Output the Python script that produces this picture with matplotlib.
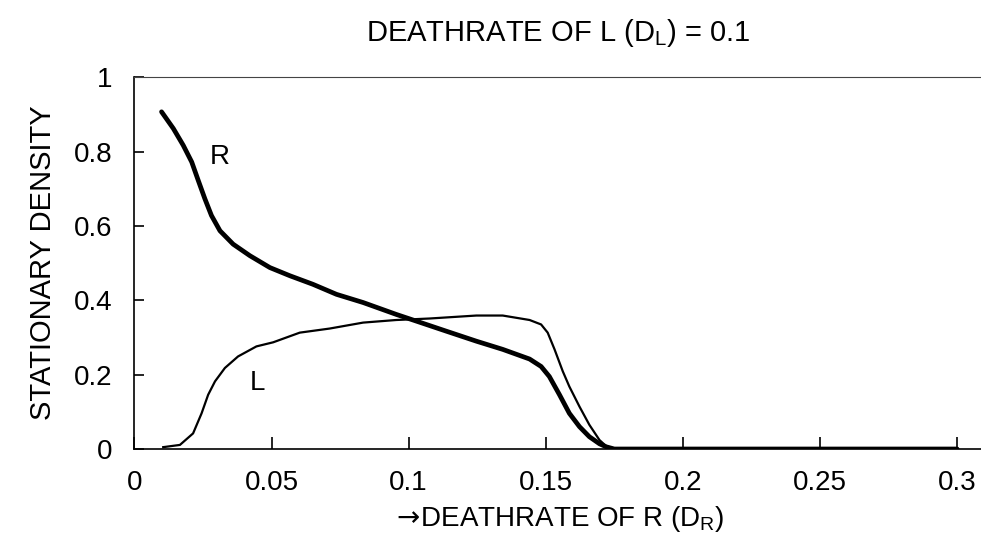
import matplotlib
matplotlib.use('Agg')
import matplotlib.pyplot as plt

plt.rcParams['font.family'] = ['Liberation Sans', 'DejaVu Sans']
plt.rcParams['mathtext.fontset'] = 'custom'
plt.rcParams['mathtext.rm'] = 'Liberation Sans'
plt.rcParams['mathtext.sf'] = 'DejaVu Sans'

# R density (thick curve)
r_x = [0.0099, 0.0142, 0.0178, 0.0209, 0.0233, 0.0257, 0.0281, 0.0312, 0.036,
       0.0421, 0.0494, 0.0567, 0.0651, 0.0737, 0.0834, 0.0955, 0.1028, 0.1137,
       0.1247, 0.1343, 0.1441, 0.1483, 0.1513, 0.155, 0.1586, 0.1623, 0.1659,
       0.1696, 0.172, 0.175, 0.3]
r_y = [0.907, 0.862, 0.817, 0.772, 0.722, 0.673, 0.628, 0.587, 0.551,
       0.520, 0.488, 0.466, 0.443, 0.416, 0.394, 0.362, 0.344, 0.317,
       0.290, 0.268, 0.242, 0.222, 0.195, 0.146, 0.096, 0.060, 0.033,
       0.014, 0.006, 0.0, 0.0]

# L density (thin curve)
l_x = [0.0105, 0.0166, 0.0214, 0.0245, 0.0269, 0.0294, 0.033, 0.0378, 0.0445,
       0.0506, 0.0603, 0.0712, 0.0834, 0.0955, 0.1076, 0.1247, 0.1343, 0.1441,
       0.1483, 0.1507, 0.1532, 0.1562, 0.1586, 0.1623, 0.1659, 0.1696, 0.172,
       0.175, 0.3]
l_y = [0.005, 0.011, 0.042, 0.096, 0.146, 0.182, 0.218, 0.249, 0.276,
       0.287, 0.313, 0.324, 0.340, 0.347, 0.351, 0.359, 0.359, 0.347,
       0.335, 0.313, 0.268, 0.209, 0.168, 0.114, 0.065, 0.024, 0.008,
       0.0, 0.0]

xticks = [0, 0.05, 0.1, 0.15, 0.2, 0.25, 0.3]
xticklabels = ['0', '0.05', '0.1', '0.15', '0.2', '0.25', '0.3']
yticks = [0, 0.2, 0.4, 0.6, 0.8, 1]
yticklabels = ['0', '0.2', '0.4', '0.6', '0.8', '1']

fig = plt.figure(figsize=(9.81, 5.40), dpi=100)
ax = fig.add_axes([0.137, 0.1685, 0.863, 0.6885])

ax.plot(r_x, r_y, color='black', lw=3.4, solid_capstyle='round',
        solid_joinstyle='round')
ax.plot(l_x, l_y, color='black', lw=1.6, solid_joinstyle='round')

ax.text(0.031, 0.786, 'R', fontsize=20, ha='center', va='center')
ax.text(0.045, 0.178, 'L', fontsize=20, ha='center', va='center')

ax.set_xlim(0, 0.3087)
ax.set_ylim(0, 1)
ax.set_xticks(xticks)
ax.set_xticklabels(xticklabels)
ax.set_yticks(yticks)
ax.set_yticklabels(yticklabels)
ax.tick_params(axis='both', direction='in', labelsize=20, width=1.2)
ax.tick_params(axis='x', length=9, pad=15)
ax.tick_params(axis='y', length=7, pad=16)

ax.spines['right'].set_visible(False)
ax.spines['top'].set_linewidth(0.8)
ax.spines['top'].set_color('#444444')
ax.spines['left'].set_linewidth(1.2)
ax.spines['bottom'].set_linewidth(1.2)

ax.set_title(r'DEATHRATE OF L (D$_\mathrm{L}$) = 0.1', fontsize=21, pad=26)
ax.set_xlabel(r'$\mathsf{\rightarrow}\!$DEATHRATE OF R (D$_\mathrm{R}$)',
              fontsize=20, labelpad=6)
ax.set_ylabel('STATIONARY DENSITY', fontsize=21, labelpad=12)

plt.savefig('out.png', dpi=100)
